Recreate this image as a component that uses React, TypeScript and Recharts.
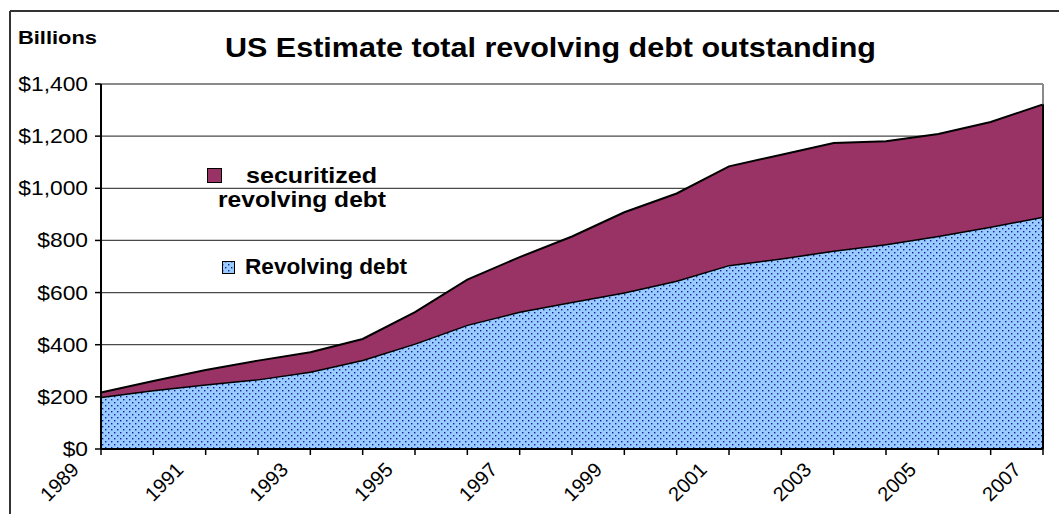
import { Area, AreaChart, CartesianGrid, ReferenceLine, XAxis, YAxis } from "recharts"

// Billions of dollars
const years = ['1989', '1990', '1991', '1992', '1993', '1994', '1995', '1996', '1997', '1998', '1999', '2000', '2001', '2002', '2003', '2004', '2005', '2006', '2007']
const revolving = [200, 226, 248, 268, 297, 342, 405, 477, 527, 565, 601, 646, 706, 732, 761, 786, 818, 853, 892]
const securitized = [17, 35, 55, 71, 74, 80, 120, 173, 209, 250, 307, 334, 378, 397, 413, 394, 390, 401, 430]
const yTicks = [0, 200, 400, 600, 800, 1000, 1200, 1400]

const data = years.map((year, i) => ({ year, revolving: revolving[i], securitized: securitized[i] }))
const lastYear = years[years.length - 1]
const lastTotal = revolving[revolving.length - 1] + securitized[securitized.length - 1]

const FONT = '"Liberation Sans", Arial, sans-serif'
const PLUM = '#993366'
const SX = 1.14

function DotPattern({ id }: { id: string }) {
  return (
    <pattern id={id} width="6" height="6" patternUnits="userSpaceOnUse">
      <rect width="6" height="6" fill="#99ccff" />
      <rect x="0" y="0" width="1.4" height="1.4" fill="#1a1a9a" />
      <rect x="3" y="3" width="1.4" height="1.4" fill="#1a1a9a" />
    </pattern>
  )
}

const YTick = ({ x, y, payload }: any) => (
  <text transform={`translate(${x},${y + 7}) scale(${SX},1)`} textAnchor="end" fontFamily={FONT} fontSize={20} fill="#000">
    {`$${Number(payload.value).toLocaleString('en-US')}`}
  </text>
)

// only odd years get a label, every year gets a tick mark
const XTick = ({ x, y, payload }: any) => {
  if ((Number(payload.value) - 1989) % 2 !== 0) return null
  return (
    <text transform={`translate(${x - 21},${y + 16}) rotate(-45)`} textAnchor="end" fontFamily={FONT} fontSize={20} fill="#000">
      {payload.value}
    </text>
  )
}

export default function App() {
  return (
    <div style={{ position: 'fixed', left: 0, top: 0, width: 1059, height: 514, background: '#fff', overflow: 'hidden' }}>
      <AreaChart width={1059} height={514} data={data} margin={{ top: 84, right: 16, bottom: 0, left: 11 }}>
        <defs>
          <DotPattern id="revDots" />
        </defs>
        <CartesianGrid vertical={false} stroke="#4a4a4a" strokeWidth={1.2} />
        <XAxis
          dataKey="year"
          interval={0}
          height={65}
          tickSize={6}
          tickMargin={0}
          tick={<XTick />}
          axisLine={{ stroke: '#000', strokeWidth: 2 }}
          tickLine={{ stroke: '#000', strokeWidth: 1.5 }}
        />
        <YAxis
          width={90}
          domain={[0, 1400]}
          ticks={yTicks}
          tickSize={6}
          tickMargin={7}
          tick={<YTick />}
          axisLine={{ stroke: '#000', strokeWidth: 2 }}
          tickLine={{ stroke: '#000', strokeWidth: 1.5 }}
        />
        <ReferenceLine y={1400} stroke="#8a8a8a" strokeWidth={2} />
        <ReferenceLine x={lastYear} stroke="#8a8a8a" strokeWidth={2} />
        <Area type="linear" dataKey="revolving" stackId="debt" stroke="#000" strokeWidth={3} fill="url(#revDots)" fillOpacity={1} isAnimationActive={false} />
        <Area type="linear" dataKey="securitized" stackId="debt" stroke="#000" strokeWidth={2} fill={PLUM} fillOpacity={1} isAnimationActive={false} />
        <ReferenceLine segment={[{ x: lastYear, y: 0 }, { x: lastYear, y: lastTotal }]} stroke="#000" strokeWidth={2} />
      </AreaChart>

      <svg width={1059} height={514} style={{ position: 'absolute', left: 0, top: 0, pointerEvents: 'none' }} fontFamily={FONT}>
        <defs>
          <DotPattern id="legendDots" />
        </defs>
        {/* outer frame */}
        <line x1={10} y1={11} x2={1059} y2={11} stroke="#333" strokeWidth={2} />
        <line x1={10} y1={11} x2={10} y2={514} stroke="#333" strokeWidth={2} />

        <text x={18} y={44} fontSize={19} fontWeight="bold" textLength={79} lengthAdjust="spacingAndGlyphs">Billions</text>
        <text x={225} y={57} fontSize={27} fontWeight="bold" textLength={651} lengthAdjust="spacingAndGlyphs">US Estimate total revolving debt outstanding</text>

        {/* legend */}
        <rect x={207.5} y={168.5} width={14} height={14} fill={PLUM} stroke="#000" strokeWidth={1} />
        <text x={246} y={183} fontSize={22} fontWeight="bold" textLength={131} lengthAdjust="spacingAndGlyphs">securitized</text>
        <text x={218} y={207} fontSize={22} fontWeight="bold" textLength={168} lengthAdjust="spacingAndGlyphs">revolving debt</text>
        <rect x={222.5} y={261.5} width={12} height={12} fill="url(#legendDots)" stroke="#000" strokeWidth={1} />
        <text x={245} y={274} fontSize={22} fontWeight="bold" textLength={162} lengthAdjust="spacingAndGlyphs">Revolving debt</text>
      </svg>
    </div>
  )
}
